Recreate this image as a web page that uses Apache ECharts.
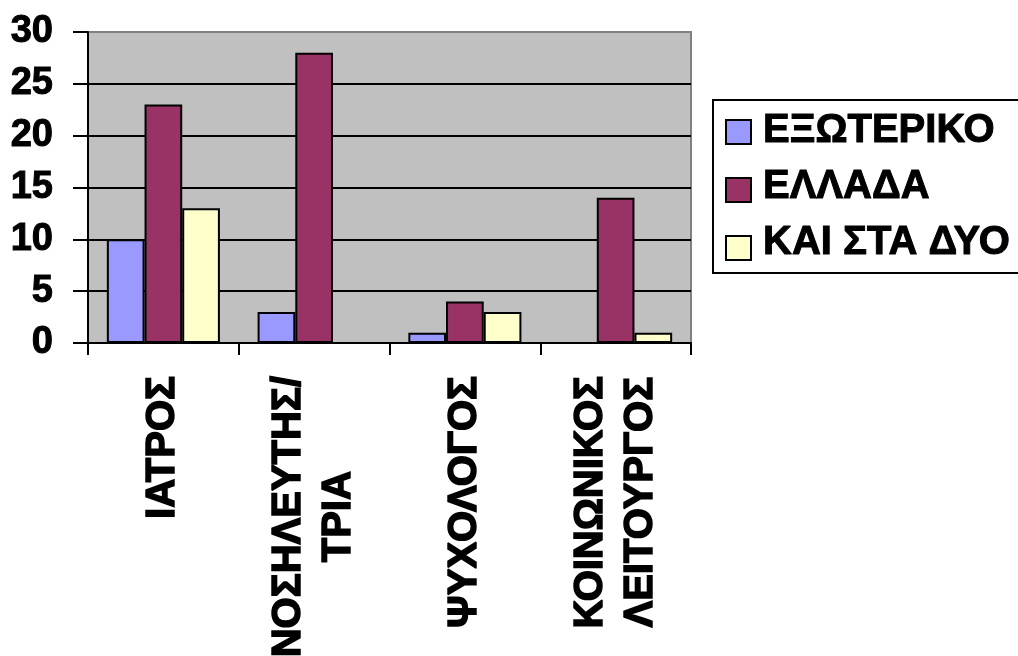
<!DOCTYPE html>
<html>
<head>
<meta charset="utf-8">
<script src="https://cdn.jsdelivr.net/npm/echarts@6/dist/echarts.min.js"></script>
<style>
  html, body { margin: 0; padding: 0; background: #ffffff; }
  #chart { width: 1018px; height: 656px; }
</style>
</head>
<body>
<div id="chart"></div>
<script>
// Professions (line breaks as printed under the axis)
const categories = ['ΙΑΤΡΟΣ', 'ΝΟΣΗΛΕΥΤΗΣ/\nΤΡΙΑ', 'ΨΥΧΟΛΟΓΟΣ', 'ΚΟΙΝΩΝΙΚΟΣ\nΛΕΙΤΟΥΡΓΟΣ'];
const seriesNames = ['ΕΞΩΤΕΡΙΚΟ', 'ΕΛΛΑΔΑ', 'ΚΑΙ ΣΤΑ ΔΥΟ'];
const abroad = [10, 3, 1, 0];
const greece = [23, 28, 4, 14];
const both = [13, 0, 3, 1];
const yTicks = [0, 5, 10, 15, 20, 25, 30];

const FONT = '"Liberation Sans", Arial, sans-serif';
const colors = ['#9999FF', '#993366', '#FFFFCC'];
const values = [abroad, greece, both];

// heavy bold text: bold face plus a thin outline of the same colour
const heavy = (size, stroke) => ({
  fontFamily: FONT, fontSize: size, fontWeight: 'bold', color: '#000',
  textBorderColor: '#000', textBorderWidth: stroke
});

// legend layout: swatch column, text column, row pitch
const LEG = { x: 713, y: 100, w: 340, h: 173, swatchX: 725, firstRow: 131, pitch: 56, textX: 763 };

const chart = echarts.init(document.getElementById('chart'));

chart.setOption({
  animation: false,
  backgroundColor: '#ffffff',
  grid: {
    left: 88, top: 32, width: 603, height: 311,
    outerBoundsMode: 'none', containLabel: false,
    show: true, backgroundColor: '#C0C0C0',
    borderColor: '#808080', borderWidth: 2
  },
  graphic: [{
    // legend frame, running past the right edge of the canvas
    type: 'rect', x: LEG.x, y: LEG.y, z: 10, silent: true,
    shape: { x: 0, y: 0, width: LEG.w, height: LEG.h },
    style: { fill: '#ffffff', stroke: '#000', lineWidth: 2 }
  }].concat(seriesNames.map((name, i) => ({
    // legend entry names, bold
    type: 'text', x: LEG.textX, y: LEG.firstRow + i * LEG.pitch, z: 30, silent: true,
    style: {
      text: name, font: 'bold 40px Arial', fill: '#000',
      stroke: '#000', lineWidth: 1, verticalAlign: 'middle'
    }
  }))),
  legend: {
    orient: 'vertical',
    left: LEG.swatchX, top: LEG.firstRow - 12, z: 20,
    padding: 0,
    itemWidth: 25, itemHeight: 24, itemGap: LEG.pitch - 24,
    icon: 'rect',
    formatter: () => '',
    data: seriesNames
  },
  xAxis: {
    type: 'category', data: categories,
    axisLine: { lineStyle: { color: '#000', width: 2 } },
    axisTick: { show: true, length: 12, lineStyle: { color: '#000', width: 2 } },
    axisLabel: {
      rotate: 90, margin: 33, interval: 0,
      formatter: v => v.split('\n').map(s => '{c|' + s + '}').join('\n'),
      rich: {
        c: Object.assign(heavy(40, 1.5), { align: 'center', lineHeight: 50 })
      }
    }
  },
  yAxis: {
    type: 'value', min: yTicks[0], max: yTicks[yTicks.length - 1],
    interval: yTicks[1] - yTicks[0],
    axisLine: { show: true, lineStyle: { color: '#000', width: 2 } },
    axisTick: { show: true, length: 15, lineStyle: { color: '#000', width: 2 } },
    axisLabel: Object.assign(heavy(38, 1), { margin: 35 }),
    splitLine: { show: true, showMaxLine: false, lineStyle: { color: '#000', width: 2 } }
  },
  series: seriesNames.map((name, i) => ({
    name, type: 'bar',
    data: values[i],
    barGap: '0%', barCategoryGap: '25%',
    itemStyle: { color: colors[i], borderColor: '#000', borderWidth: 2 }
  }))
});
</script>
</body>
</html>
